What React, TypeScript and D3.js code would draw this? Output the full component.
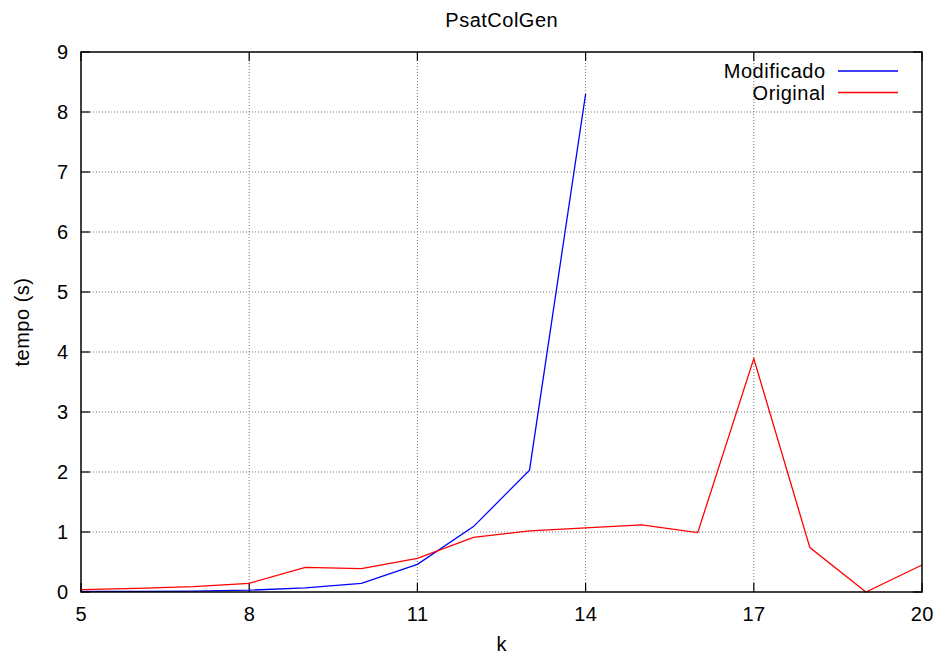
import { useMemo } from 'react';
import { scaleLinear, line } from 'd3';

const ks = [5, 6, 7, 8, 9, 10, 11, 12, 13, 14, 15, 16, 17, 18, 19, 20];
const modificado = [0.01, 0.01, 0.015, 0.03, 0.07, 0.145, 0.46, 1.09, 2.03, 8.3];
const original = [
  0.04, 0.06, 0.09, 0.145, 0.41, 0.39, 0.56, 0.91, 1.02, 1.07, 1.12, 0.99, 3.89,
  0.74, 0.0, 0.45,
];
const xTicks = [5, 8, 11, 14, 17, 20];
const yTicks = [0, 1, 2, 3, 4, 5, 6, 7, 8, 9];

const series = [
  { name: 'Modificado', values: modificado, color: '#0000ff' },
  { name: 'Original', values: original, color: '#ff0000' },
];

const W = 941,
  H = 655;
const margin = { top: 52, right: 19, bottom: 63, left: 81 };
const font = '"Liberation Sans", Arial, Helvetica, sans-serif';
const ls = 0.5;
const fs = 20;

export default function App() {
  const x = useMemo(
    () => scaleLinear().domain([5, 20]).range([margin.left, W - margin.right]),
    []
  );
  const y = useMemo(
    () => scaleLinear().domain([0, 9]).range([H - margin.bottom, margin.top]),
    []
  );
  const path = line<number>()
    .x((_, i) => x(ks[i]))
    .y((d) => y(d));

  const x0 = x(5),
    x1 = x(20),
    y0 = y(0),
    y1 = y(9);

  return (
    <svg
      width={W}
      height={H}
      style={{ position: 'absolute', left: 0, top: 0, background: '#fff' }}
      fontFamily={font}
      letterSpacing={ls}
    >
      {/* grid */}
      <g stroke="#777" strokeWidth={1} strokeDasharray="1,2">
        {xTicks.slice(1, -1).map((t) => (
          <line key={'gx' + t} x1={x(t)} x2={x(t)} y1={y0} y2={y1} />
        ))}
        {yTicks.slice(1, -1).map((t) => (
          <line key={'gy' + t} x1={x0} x2={x1} y1={y(t)} y2={y(t)} />
        ))}
      </g>
      {/* ticks */}
      <g stroke="#000" strokeWidth={1.2}>
        {xTicks.map((t) => (
          <g key={'tx' + t}>
            <line x1={x(t)} x2={x(t)} y1={y0} y2={y0 - 9} />
            <line x1={x(t)} x2={x(t)} y1={y1} y2={y1 + 9} />
          </g>
        ))}
        {yTicks.map((t) => (
          <g key={'ty' + t}>
            <line x1={x0} x2={x0 + 9} y1={y(t)} y2={y(t)} />
            <line x1={x1} x2={x1 - 9} y1={y(t)} y2={y(t)} />
          </g>
        ))}
      </g>
      {/* lines */}
      {series.map((s) => (
        <path
          key={s.name}
          d={path(s.values) || ''}
          fill="none"
          stroke={s.color}
          strokeWidth={1.3}
        />
      ))}
      {/* frame */}
      <rect
        x={x0}
        y={y1}
        width={x1 - x0}
        height={y0 - y1}
        fill="none"
        stroke="#000"
        strokeWidth={1.5}
      />
      {/* tick labels */}
      <g fontSize={fs} fill="#000">
        {xTicks.map((t) => (
          <text key={'lx' + t} x={x(t) + ls / 2} y={621} textAnchor="middle">
            {t}
          </text>
        ))}
        {yTicks.map((t) => (
          <text key={'ly' + t} x={68 + ls} y={y(t) + 7} textAnchor="end">
            {t}
          </text>
        ))}
      </g>
      {/* titles */}
      <text x={(x0 + x1) / 2 + ls / 2} y={27} fontSize={fs} textAnchor="middle">
        PsatColGen
      </text>
      <text x={(x0 + x1) / 2 + ls / 2} y={651} fontSize={fs} textAnchor="middle">
        k
      </text>
      <text
        transform={`translate(29,${(y0 + y1) / 2}) rotate(-90)`}
        fontSize={fs}
        textAnchor="middle"
      >
        tempo (s)
      </text>
      {/* legend */}
      {series.map((s, i) => (
        <g key={'lg' + s.name}>
          <text x={825 + ls} y={78 + i * 22} fontSize={fs} textAnchor="end">
            {s.name}
          </text>
          <line
            x1={838}
            x2={898}
            y1={71 + i * 21.5}
            y2={71 + i * 21.5}
            stroke={s.color}
            strokeWidth={1.3}
          />
        </g>
      ))}
    </svg>
  );
}
